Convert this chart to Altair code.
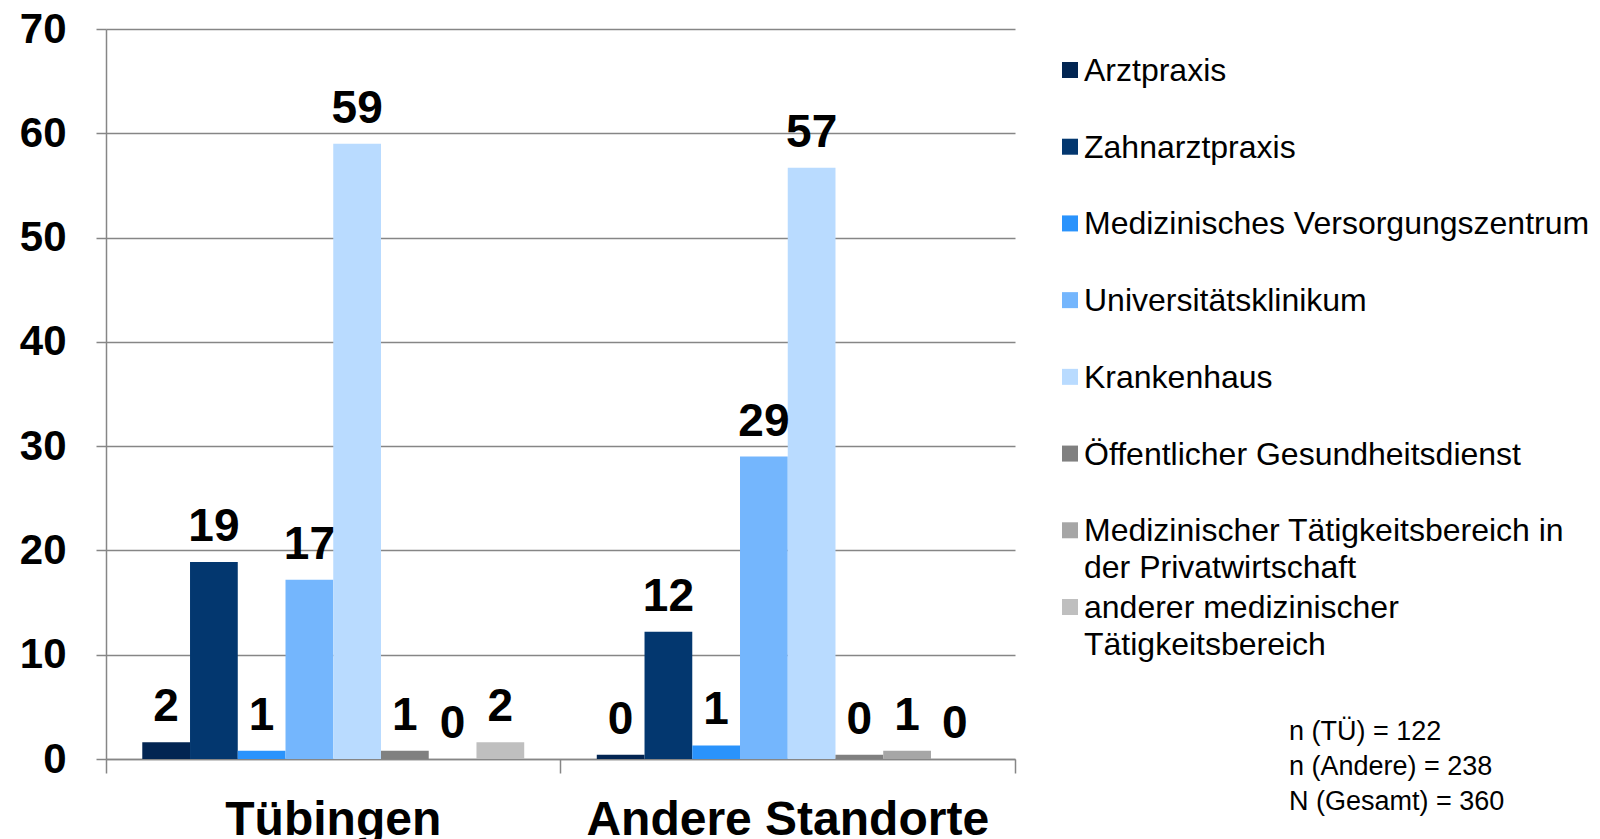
import altair as alt
import pandas as pd

# ---------------- data ----------------
standorte = ["Tübingen", "Andere Standorte"]
bereiche = [
    "Arztpraxis",
    "Zahnarztpraxis",
    "Medizinisches Versorgungszentrum",
    "Universitätsklinikum",
    "Krankenhaus",
    "Öffentlicher Gesundheitsdienst",
    "Medizinischer Tätigkeitsbereich in der Privatwirtschaft",
    "anderer medizinischer Tätigkeitsbereich",
]
legend_labels = [
    "Arztpraxis",
    "Zahnarztpraxis",
    "Medizinisches Versorgungszentrum",
    "Universitätsklinikum",
    "Krankenhaus",
    "Öffentlicher Gesundheitsdienst",
    "Medizinischer Tätigkeitsbereich in\nder Privatwirtschaft",
    "anderer medizinischer\nTätigkeitsbereich",
]
tuebingen = [1.6, 18.9, 0.8, 17.2, 59.0, 0.8, 0.0, 1.6]
andere = [0.4, 12.2, 1.3, 29.0, 56.7, 0.4, 0.8, 0.0]
colors = ["#022552", "#03376f", "#2a93fc", "#74b6fd", "#b9dbff",
          "#808080", "#a6a6a6", "#bfbfbf"]
n_lines = ["n (TÜ) = 122", "n (Andere) = 238", "N (Gesamt) = 360"]
y_ticks = [0, 10, 20, 30, 40, 50, 60, 70]

# ---------------- tables ----------------
df = pd.DataFrame({
    "Standort": [s for s in standorte for _ in bereiche],
    "Bereich": bereiche * 2,
    "Wert": tuebingen + andere,
})
leg_df = pd.DataFrame({"Bereich": bereiche, "Label": legend_labels})
n_df = pd.DataFrame({"t": ["\n".join(n_lines)]})

FONT = "Liberation Sans"
GRAY = "#868686"

color = alt.Color("Bereich:N", sort=bereiche,
                  scale=alt.Scale(domain=bereiche, range=colors), legend=None)

x_scale = alt.Scale(paddingInner=0, paddingOuter=0)
x_labels = alt.X(
    "Standort:N", sort=standorte, scale=x_scale,
    axis=alt.Axis(title=None, orient="bottom", labelAngle=0, labelFont=FONT,
                  labelFontSize=48, labelFontWeight="bold", labelColor="black",
                  labelBaseline="alphabetic", labelPadding=75, labelLimit=1000,
                  ticks=False, tickSize=0, domain=True, domainColor=GRAY,
                  domainWidth=1.5, grid=False),
)
x_ticks = alt.X(
    "Standort:N", sort=standorte, scale=x_scale,
    axis=alt.Axis(title=None, orient="bottom", labels=False, domain=False,
                  ticks=True, tickSize=14, tickColor=GRAY, tickWidth=1.5,
                  bandPosition=1, tickExtra=True, grid=False),
)
xo = alt.XOffset("Bereich:N", sort=bereiche,
                 scale=alt.Scale(paddingInner=0, paddingOuter=0.76))
y_enc = alt.Y(
    "Wert:Q", scale=alt.Scale(domain=[0, 70], nice=False),
    axis=alt.Axis(title=None, values=y_ticks, labelFont=FONT, labelFontSize=42,
                  labelFontWeight="bold", labelColor="black", labelPadding=30,
                  tickSize=10, tickColor=GRAY, tickWidth=1.5, domainColor=GRAY,
                  domainWidth=1.5, gridColor=GRAY, gridWidth=1.3),
)

bars = alt.Chart(df).mark_bar().encode(x=x_labels, xOffset=xo, y=y_enc, color=color)
values = alt.Chart(df).mark_text(
    font=FONT, fontSize=46, fontWeight="bold", baseline="alphabetic", dy=-21,
    color="black",
).encode(x=x_ticks, xOffset=xo, y=alt.Y("Wert:Q"), text=alt.Text("Wert:Q", format=".0f"))

main = alt.layer(bars, values).resolve_axis(x="independent").properties(
    width=909, height=730)

# ---------------- legend ----------------
ly = alt.Y("Bereich:N", sort=bereiche,
           scale=alt.Scale(type="point", domain=bereiche, range=[41, 578],
                           padding=0),
           axis=None)
squares = alt.Chart(leg_df).mark_square(size=256, opacity=1).encode(
    x=alt.value(13), y=ly, color=color)
texts = alt.Chart(leg_df).mark_text(
    align="left", baseline="top", dy=-14, font=FONT, fontSize=32,
    lineHeight=37, lineBreak="\n", color="black",
).encode(x=alt.value(27), y=ly, text="Label:N")
ntext = alt.Chart(n_df).mark_text(
    align="left", baseline="top", font=FONT, fontSize=27, lineHeight=35,
    lineBreak="\n", color="black",
).encode(x=alt.value(232), y=alt.value(690), text="t:N")

legend = alt.layer(squares, texts, ntext).properties(width=520, height=730)

chart = alt.hconcat(main, legend, spacing=41).properties(
    padding={"left": 11, "top": 0, "right": 0, "bottom": 0}
).configure(font=FONT).configure_view(strokeWidth=0, stroke="transparent")

chart.save("out.html", embed_options={"renderer": "svg", "actions": False})
